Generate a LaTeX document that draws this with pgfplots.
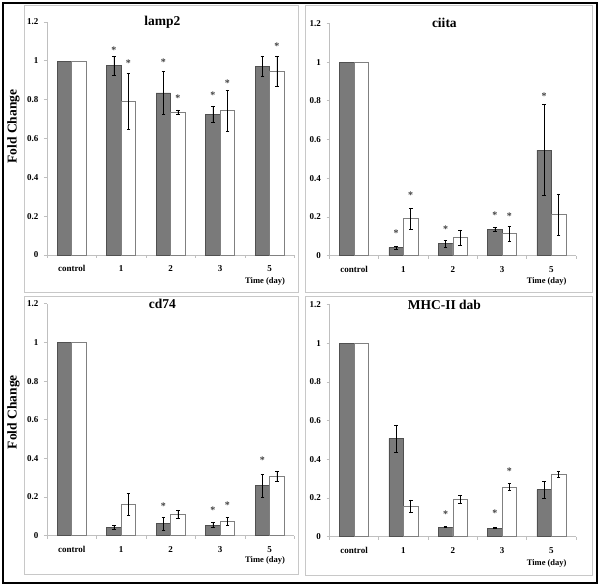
\documentclass[border=0pt]{standalone}
\usepackage{fontspec}
\setmainfont{Liberation Serif}
\usepackage{pgfplots}
\pgfplotsset{compat=1.18}

\definecolor{barD}{HTML}{7A7A7A}
\definecolor{barDedge}{HTML}{505050}
\definecolor{barWedge}{HTML}{808080}
\definecolor{axgray}{HTML}{BFBFBF}
\definecolor{framegray}{HTML}{C8C8C8}
\definecolor{stargray}{HTML}{404040}

\tikzset{starnode/.style={font=\fontsize{10}{10}\selectfont\bfseries, text=stargray, inner sep=0pt, yshift=-1.2pt}}

\pgfplotsset{
  panel/.style={
    scale only axis,
    ybar=0pt, bar width=14.5pt,
    xmin=-0.5, xmax=4.5, ymin=0, ymax=1.2,
    axis lines*=left,
    axis line style={axgray, line width=0.8pt},
    xtick={0,1,2,3,4}, xticklabels={control,1,2,3,5},
    minor xtick={-0.5,0.5,1.5,2.5,3.5,4.5},
    ytick={0,0.2,0.4,0.6,0.8,1,1.2},
    yticklabels={0,0.2,0.4,0.6,0.8,1,1.2},
    tick align=outside,
    major x tick style={draw=none},
    minor x tick style={axgray, line width=0.8pt},
    ytick style={axgray, line width=0.8pt},
    minor tick length=3pt,
    major tick length=3pt,
    tick label style={font=\fontsize{9}{10}\selectfont\bfseries},
    xticklabel style={yshift=-4pt},
    yticklabel style={xshift=-2pt},
    title style={font=\fontsize{13.5}{15}\selectfont\bfseries, anchor=center, at={(axis description cs:0.466,0.975)}},
    xlabel={Time (day)},
    xlabel style={font=\fontsize{8.5}{10}\selectfont\bfseries, anchor=center, at={(axis description cs:0.881,-0.112)}},
    clip=false,
    error bars/error bar style={black, line width=0.45pt},
    error bars/error mark options={rotate=90, mark size=1.8pt, black, line width=0.45pt},
  },
  flabel/.style={
    ylabel={Fold Change},
    ylabel style={font=\fontsize{13.5}{15}\selectfont\bfseries, anchor=center, at={(axis description cs:-0.136,#1)}},
  },
  darkctl/.style={fill=barD, draw=barDedge, line width=0.5pt, bar shift=-7.25pt},
  whitectl/.style={fill=white, draw=barWedge, line width=0.5pt, bar shift=7.25pt},
  darkbar/.style={fill=barD, draw=barDedge, line width=0.5pt, bar shift=-7.25pt, error bars/.cd, y dir=both, y explicit},
  whitebar/.style={fill=white, draw=barWedge, line width=0.5pt, bar shift=7.25pt, error bars/.cd, y dir=both, y explicit},
}

\begin{document}
\begin{tikzpicture}
\fill[white] (0pt,0pt) rectangle (600pt,587pt);
\draw[black, line width=2pt] (3pt,4pt) rectangle (597pt,584pt);
\draw[framegray, line width=0.8pt] (24pt,295pt) rectangle (298pt,582pt);
\draw[framegray, line width=0.8pt] (305pt,295pt) rectangle (592pt,582pt);
\draw[framegray, line width=0.8pt] (24pt,13pt) rectangle (298pt,291pt);
\draw[framegray, line width=0.8pt] (305pt,12pt) rectangle (592pt,291pt);

% ---------------- lamp2 ----------------
\begin{axis}[panel, flabel=0.551, at={(47pt,332pt)}, anchor=south west,
  width=247.5pt, height=233pt, title={lamp2}]
\addplot[darkctl] coordinates {(0,1)};
\addplot[whitectl] coordinates {(0,1)};
\addplot[darkbar] coordinates {(1,0.975) +- (0,0.05) (2,0.835) +- (0,0.11) (3,0.725) +- (0,0.04) (4,0.973) +- (0,0.053)};
\addplot[whitebar] coordinates {(1,0.793) +- (0,0.145) (2,0.737) +- (0,0.01) (3,0.745) +- (0,0.105) (4,0.948) +- (0,0.078)};
\node[starnode, xshift=-7.25pt] at (axis cs:1,1.063) {*};
\node[starnode, xshift=7.25pt] at (axis cs:1,0.996) {*};
\node[starnode, xshift=-7.25pt] at (axis cs:2,1.0) {*};
\node[starnode, xshift=7.25pt] at (axis cs:2,0.812) {*};
\node[starnode, xshift=-7.25pt] at (axis cs:3,0.83) {*};
\node[starnode, xshift=7.25pt] at (axis cs:3,0.89) {*};
\node[starnode, xshift=7.25pt] at (axis cs:4,1.08) {*};
\end{axis}

% ---------------- ciita ----------------
\begin{axis}[panel, at={(329.5pt,331.3pt)}, anchor=south west,
  width=246.5pt, height=232.3pt, title={ciita}]
\addplot[darkctl] coordinates {(0,1)};
\addplot[whitectl] coordinates {(0,1)};
\addplot[darkbar] coordinates {(1,0.043) +- (0,0.007) (2,0.062) +- (0,0.019) (3,0.136) +- (0,0.01) (4,0.545) +- (0,0.235)};
\addplot[whitebar] coordinates {(1,0.192) +- (0,0.055) (2,0.093) +- (0,0.04) (3,0.114) +- (0,0.038) (4,0.213) +- (0,0.107)};
\node[starnode, xshift=-7.25pt] at (axis cs:1,0.12) {*};
\node[starnode, xshift=7.25pt] at (axis cs:1,0.318) {*};
\node[starnode, xshift=-7.25pt] at (axis cs:2,0.141) {*};
\node[starnode, xshift=-7.25pt] at (axis cs:3,0.215) {*};
\node[starnode, xshift=7.25pt] at (axis cs:3,0.21) {*};
\node[starnode, xshift=-7.25pt] at (axis cs:4,0.828) {*};
\end{axis}

% ---------------- cd74 ----------------
\begin{axis}[panel, flabel=0.533, at={(47pt,51.3pt)}, anchor=south west,
  width=247.5pt, height=231.9pt, title={cd74},
  xlabel style={at={(axis description cs:0.881,-0.106)}}]
\addplot[darkctl] coordinates {(0,1)};
\addplot[whitectl] coordinates {(0,1)};
\addplot[darkbar] coordinates {(1,0.043) +- (0,0.012) (2,0.064) +- (0,0.034) (3,0.055) +- (0,0.013) (4,0.259) +- (0,0.06)};
\addplot[whitebar] coordinates {(1,0.162) +- (0,0.058) (2,0.11) +- (0,0.022) (3,0.076) +- (0,0.02) (4,0.307) +- (0,0.026)};
\node[starnode, xshift=-7.25pt] at (axis cs:2,0.159) {*};
\node[starnode, xshift=-7.25pt] at (axis cs:3,0.138) {*};
\node[starnode, xshift=7.25pt] at (axis cs:3,0.166) {*};
\node[starnode, xshift=-7.25pt] at (axis cs:4,0.395) {*};
\end{axis}

% ---------------- MHC-II dab ----------------
\begin{axis}[panel, at={(329.5pt,50.3pt)}, anchor=south west,
  width=246.5pt, height=232pt, title={MHC-II dab},
  xlabel style={at={(axis description cs:0.881,-0.116)}}]
\addplot[darkctl] coordinates {(0,1)};
\addplot[whitectl] coordinates {(0,1)};
\addplot[darkbar] coordinates {(1,0.508) +- (0,0.07) (2,0.05) +- (0,0.003) (3,0.045) +- (0,0.003) (4,0.243) +- (0,0.042)};
\addplot[whitebar] coordinates {(1,0.158) +- (0,0.033) (2,0.192) +- (0,0.021) (3,0.257) +- (0,0.019) (4,0.324) +- (0,0.017)};
\node[starnode, xshift=-7.25pt] at (axis cs:2,0.121) {*};
\node[starnode, xshift=-7.25pt] at (axis cs:3,0.129) {*};
\node[starnode, xshift=7.25pt] at (axis cs:3,0.343) {*};
\end{axis}
\end{tikzpicture}
\end{document}
